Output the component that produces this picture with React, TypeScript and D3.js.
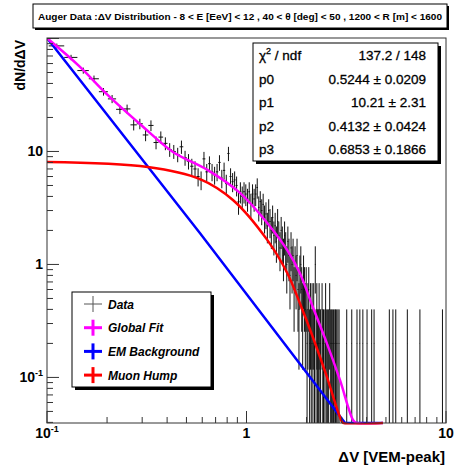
import React from 'react';
import * as d3 from 'd3';

// histogram binning of the Auger data (dN/dV, 1 entry = 0.2)
const binLow = 0.102;
const binWidth = 0.02;
const perCount = 0.2;
const counts = [
  430, 340, 260, 220, 169, 146, 118, 119, 86, 88, 70, 85,
  60, 67, 59, 52, 50, 47,
  55, 44, 41, 37, 35, 30, 28, 43, 33, 39, 33, 31, 33, 40, 29, 34, 26, 48, 30, 27, 28, 25, 18, 22, 20, 22, 21, 19, 22, 17, 21,
  19, 21, 24, 16, 18, 15, 17, 13, 14, 11, 15, 12, 10, 13, 9, 11, 8, 12, 9, 7,
  10, 8, 6, 9, 7, 5, 8, 6, 4, 7, 5, 6, 3, 5, 4, 6, 3, 2, 4, 5, 3, 2, 4, 3, 2, 3,
  1, 2, 3, 1, 2, 1, 2, 1, 2, 1, 5, 1, 2, 1, 1, 2, 1, 1, 0, 2, 1, 1, 0, 1, 2, 1, 0, 1, 1, 0,
  2, 1, 0, 1, 1, 0, 1, 0, 1, 1, 0, 1, 0, 1, 0, 1, 0,
];
// isolated single entries in the tail
const tailCenters = [3.18, 3.37, 3.58, 3.7, 3.83, 4.02, 4.24, 4.36, 5.2, 5.42, 5.6, 6.4, 7.4, 9.6];

// fitted functions
const fitX = [0.1, 0.145, 0.2, 0.3, 0.428, 0.634, 0.927, 1.27, 1.6, 1.85, 2.15, 2.53, 2.94, 3.42, 3.55, 4.83];
const fitY = [118, 57, 32, 16.8, 9.9, 6.9, 4.3, 2.33, 1.34, 0.84, 0.42, 0.2, 0.095, 0.042, 0.03, 0.03];
const emX = [0.1, 0.585, 3.12, 3.3, 4.83];
const emY = [110, 1.89, 0.0395, 0.03, 0.03];
const muonX = [0.1, 0.32, 0.585, 0.855, 1.27, 1.6, 1.85, 2.15, 2.53, 2.94, 3.05, 4.83];
const muonY = [8.07, 7.3, 5.7, 3.72, 1.65, 0.84, 0.456, 0.228, 0.101, 0.0447, 0.03, 0.03];

const statsLabels = ['chi2', 'p0', 'p1', 'p2', 'p3'];
const statsValues = ['137.2 / 148', '0.5244 \u00b1 0.0209', '10.21 \u00b1 2.31', '0.4132 \u00b1 0.0424', '0.6853 \u00b1 0.1866'];

const legendLabels = ['Data', 'Global Fit', 'EM Background', 'Muon Hump'];
const legendColors = ['#555', '#ff00ff', '#0000ff', '#ff0000'];

const tickLabelValues = [0.1, 1, 10];

const title = 'Auger Data :\u0394V Distribution - 8 < E [EeV] < 12 , 40 < \u03b8 [deg] < 50 , 1200 < R [m] < 1600';

const W = 456;
const H = 466;
const FONT = 'Liberation Sans, Arial, Helvetica, sans-serif';

const Label = ({ v }: { v: number }) => {
  if (v === 0.1) {
    return (
      <>
        <tspan>10</tspan>
        <tspan fontSize={9} dy={-6}>-1</tspan>
      </>
    );
  }
  return <tspan>{String(v)}</tspan>;
};

export default function App() {
  const x = d3.scaleLog().domain([0.1, 10]).range([47, 446]);
  const y = d3.scaleLog().domain([0.0395, 101]).range([423, 38]).clamp(true);
  const [x0, x1] = x.range();
  const [yb, yt] = y.range();

  const isMajor = (v: number) => Math.abs(Math.log10(v) - Math.round(Math.log10(v))) < 1e-6;

  // data points
  const pts: { c: number; lo: number; hi: number; n: number }[] = [];
  counts.forEach((n, i) => {
    const lo = binLow + i * binWidth;
    pts.push({ c: lo + binWidth / 2, lo, hi: lo + binWidth, n });
  });
  tailCenters.forEach((c) => pts.push({ c, lo: c - binWidth / 2, hi: c + binWidth / 2, n: 1 }));

  const smooth = d3.line<[number, number]>().curve(d3.curveCatmullRom.alpha(0.5));
  const straight = d3.line<[number, number]>();
  const curve = (xs: number[], ys: number[], gen = smooth) =>
    gen(xs.map((v, i) => [x(v), y(ys[i])] as [number, number])) || '';

  const clipId = 'frameclip';

  return (
    <svg width={W} height={H} style={{ position: 'absolute', left: 0, top: 0, background: '#fff' }} fontFamily={FONT}>
      <rect x={0} y={0} width={W} height={H} fill="#fff" />
      <defs>
        <clipPath id={clipId}>
          <rect x={x0} y={yt} width={x1 - x0} height={yb - yt + 1.5} />
        </clipPath>
      </defs>

      {/* title box */}
      <rect x={35} y={6} width={414} height={24} fill="#000" />
      <rect x={33} y={4} width={414} height={24} fill="#fff" stroke="#000" strokeWidth={1} />
      <text x={240} y={20} fontSize={9.4} fontWeight="bold" textAnchor="middle" textLength={404} lengthAdjust="spacingAndGlyphs">
        {title}
      </text>

      {/* data */}
      <g clipPath={`url(#${clipId})`} stroke="#111" strokeWidth={1} fill="none">
        {pts.filter((p) => p.n > 0).map((p, i) => {
          const v = p.n * perCount;
          const e = Math.sqrt(p.n) * perCount;
          const low = v - e > 0 ? y(v - e) : yb;
          return (
            <g key={i}>
              <line x1={x(p.lo)} x2={x(p.hi)} y1={y(v)} y2={y(v)} />
              <line x1={x(p.c)} x2={x(p.c)} y1={low} y2={y(v + e)} />
            </g>
          );
        })}
      </g>

      {/* fit curves */}
      <g clipPath={`url(#${clipId})`} fill="none" strokeWidth={2.5}>
        <path d={curve(emX, emY, straight)} stroke="#0000ff" />
        <path d={curve(fitX, fitY)} stroke="#ff00ff" />
        <path d={curve(muonX, muonY)} stroke="#ff0000" />
      </g>

      {/* frame */}
      <rect x={x0} y={yt} width={x1 - x0} height={yb - yt} fill="none" stroke="#333" strokeWidth={1} />

      {/* ticks */}
      <g stroke="#333" strokeWidth={1}>
        {x.ticks().map((t, i) => (
          <line key={i} x1={x(t)} x2={x(t)} y1={yb} y2={yb - (isMajor(t) ? 12 : 6)} />
        ))}
        {y.ticks().map((t, i) => (
          <line key={i} x1={x0} x2={x0 + (isMajor(t) ? 12 : 6)} y1={y(t)} y2={y(t)} />
        ))}
      </g>

      {/* tick labels */}
      <g fontSize={14} fontWeight="bold" fill="#000">
        {tickLabelValues.map((t) => (
          <text key={'x' + t} x={x(t)} y={438} textAnchor="middle">
            <Label v={t} />
          </text>
        ))}
        {tickLabelValues.map((t) => (
          <text key={'y' + t} x={43} y={y(t) + 5} textAnchor="end">
            <Label v={t} />
          </text>
        ))}
      </g>

      {/* axis titles */}
      <text x={445} y={462} fontSize={15} fontWeight="bold" textAnchor="end">
        {'\u0394V [VEM-peak]'}
      </text>
      <text transform="translate(25,40) rotate(-90)" fontSize={14} fontWeight="bold" textAnchor="end">
        {'dN/d\u0394V'}
      </text>

      {/* stats box */}
      <rect x={256} y={46} width={185} height={118} fill="#000" />
      <rect x={253} y={43} width={185} height={118} fill="#fff" stroke="#000" strokeWidth={1} />
      <g fontSize={13.5} fill="#000" stroke="#000" strokeWidth={0.3}>
        {statsLabels.map((l, i) => (
          <g key={l}>
            <text x={259} y={60 + i * 23.5}>
              {l === 'chi2' ? (
                <>
                  <tspan>{'\u03c7'}</tspan>
                  <tspan fontSize={9} dy={-6}>2</tspan>
                  <tspan dy={6}>{' / ndf'}</tspan>
                </>
              ) : (
                l
              )}
            </text>
            <text x={426} y={60 + i * 23.5} textAnchor="end">
              {statsValues[i]}
            </text>
          </g>
        ))}
      </g>

      {/* legend */}
      <rect x={75} y={295} width={139} height={95} fill="#000" />
      <rect x={72} y={292} width={139} height={95} fill="#fff" stroke="#000" strokeWidth={1} />
      {legendLabels.map((l, i) => {
        const cy = 304 + i * 23.7;
        const sw = i === 0 ? 1 : 3;
        return (
          <g key={l}>
            <line x1={84} x2={102} y1={cy} y2={cy} stroke={legendColors[i]} strokeWidth={sw} />
            <line x1={93} x2={93} y1={cy - 8} y2={cy + 8} stroke={legendColors[i]} strokeWidth={sw} />
            <text x={108} y={cy + 4.5} fontSize={12} fontStyle="italic" fontWeight="bold">
              {l}
            </text>
          </g>
        );
      })}
    </svg>
  );
}
